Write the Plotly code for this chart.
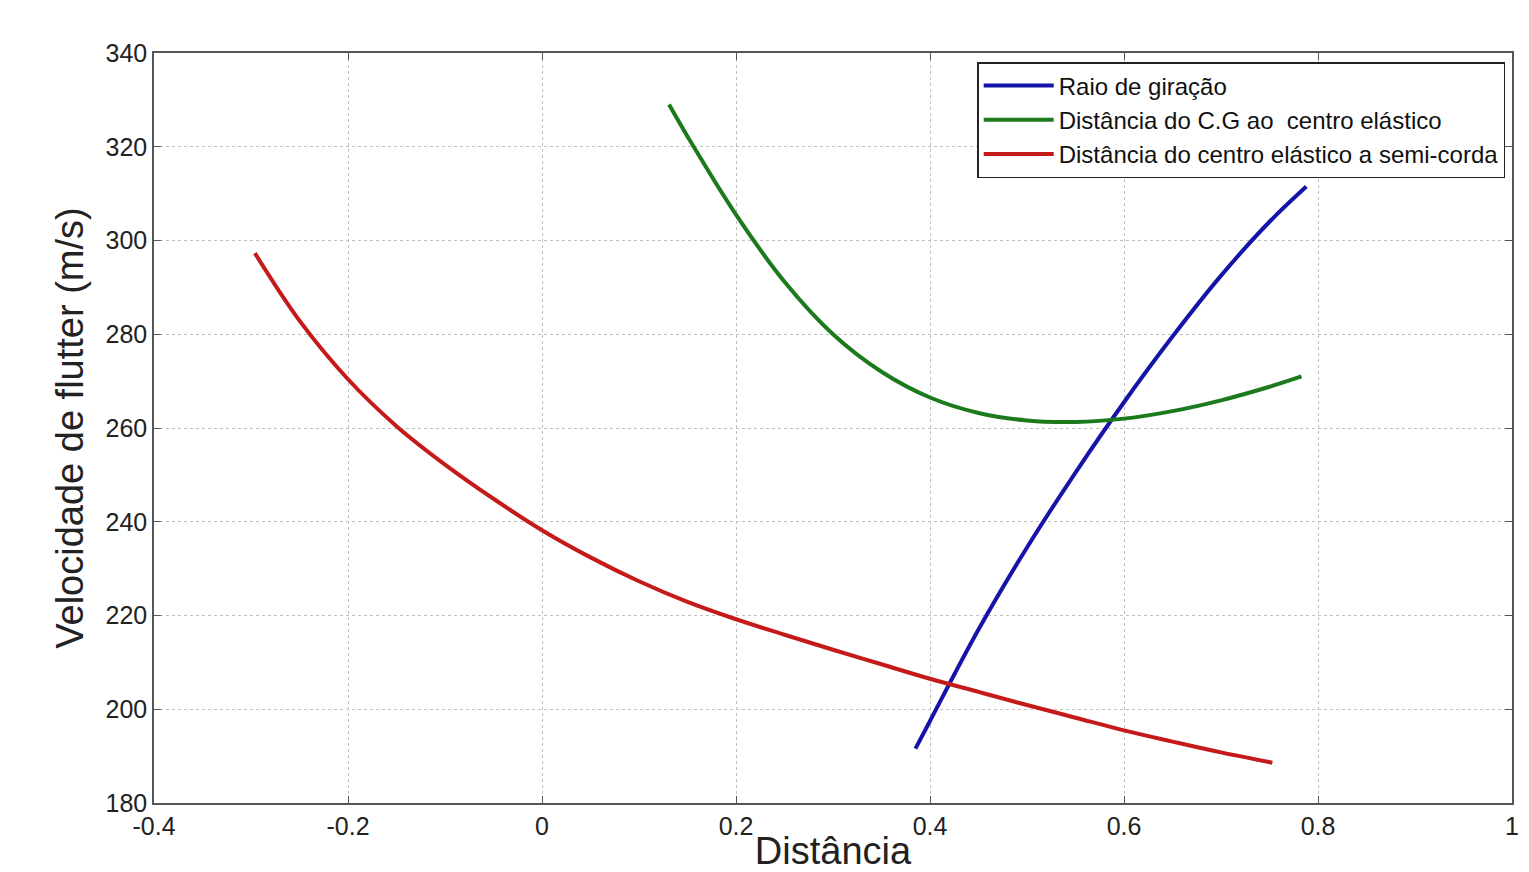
import plotly.graph_objects as go

# Raio de giração
blue_x = [0.385, 0.40, 0.45, 0.50, 0.55, 0.60, 0.65, 0.70, 0.75, 0.788]
blue_y = [191.6, 197.5, 217.0, 234.5, 250.5, 265.5, 279.5, 292.5, 304.0, 311.5]

# Distância do C.G ao centro elástico
green_x = [0.131, 0.15, 0.20, 0.25, 0.30, 0.35, 0.40, 0.45, 0.50, 0.55, 0.60, 0.65, 0.70, 0.75, 0.783]
green_y = [329.0, 322.2, 305.5, 291.2, 280.0, 272.0, 266.5, 263.2, 261.6, 261.3, 262.0, 263.6, 265.9, 268.8, 271.0]

# Distância do centro elástico a semi-corda
red_x = [-0.296, -0.25, -0.20, -0.15, -0.10, -0.05, 0.0, 0.05, 0.10, 0.15, 0.20, 0.25, 0.30,
         0.35, 0.40, 0.45, 0.50, 0.55, 0.60, 0.65, 0.70, 0.753]
red_y = [297.3, 282.9, 270.4, 260.4, 252.2, 244.9, 238.2, 232.4, 227.3, 222.9, 219.2, 215.9, 212.7,
         209.6, 206.5, 203.7, 200.9, 198.2, 195.5, 193.1, 190.8, 188.6]

names = ["Raio de giração", "Distância do C.G ao  centro elástico", "Distância do centro elástico a semi-corda"]
colors = ["#1414a8", "#1c7a1c", "#c41a1a"]

x_ticks = [-0.4, -0.2, 0, 0.2, 0.4, 0.6, 0.8, 1]
x_tick_text = ["-0.4", "-0.2", "0", "0.2", "0.4", "0.6", "0.8", "1"]
y_ticks = [180, 200, 220, 240, 260, 280, 300, 320, 340]

FONT = "Liberation Sans, Arial, sans-serif"

fig = go.Figure()
for xs, ys, n, c in zip([blue_x, green_x, red_x], [blue_y, green_y, red_y], names, colors):
    fig.add_trace(go.Scatter(x=xs, y=ys, mode="lines", name=n,
                             line=dict(color=c, width=4, shape="spline", smoothing=1.0)))

axis_common = dict(
    showgrid=True, gridcolor="#c0c0c0", griddash="dot", gridwidth=1,
    showline=True, linecolor="#555555", linewidth=1.5, mirror="ticks",
    ticks="inside", ticklen=7, tickcolor="#555555",
    zeroline=False, automargin=False,
    tickfont=dict(family=FONT, size=25, color="#222222"),
)

fig.update_layout(
    width=1529, height=872,
    margin=dict(l=154, r=17, t=53, b=69),
    paper_bgcolor="white", plot_bgcolor="white",
    font=dict(family=FONT, color="#222222"),
    xaxis=dict(range=[-0.4, 1], tickvals=x_ticks, ticktext=x_tick_text,
               title=dict(text="Distância", font=dict(size=38, color="#222222"), standoff=5),
               **axis_common),
    yaxis=dict(range=[180, 340], tickvals=y_ticks,
               title=dict(text="Velocidade de flutter (m/s)", font=dict(size=38, color="#222222"), standoff=10),
               **axis_common),
    legend=dict(x=0.995, y=0.988, xanchor="right", yanchor="top",
                bgcolor="white", bordercolor="#222222", borderwidth=1.5,
                font=dict(size=24, color="#111111"), tracegroupgap=0, itemwidth=70),
    showlegend=True,
)

fig.write_html("out.html")
